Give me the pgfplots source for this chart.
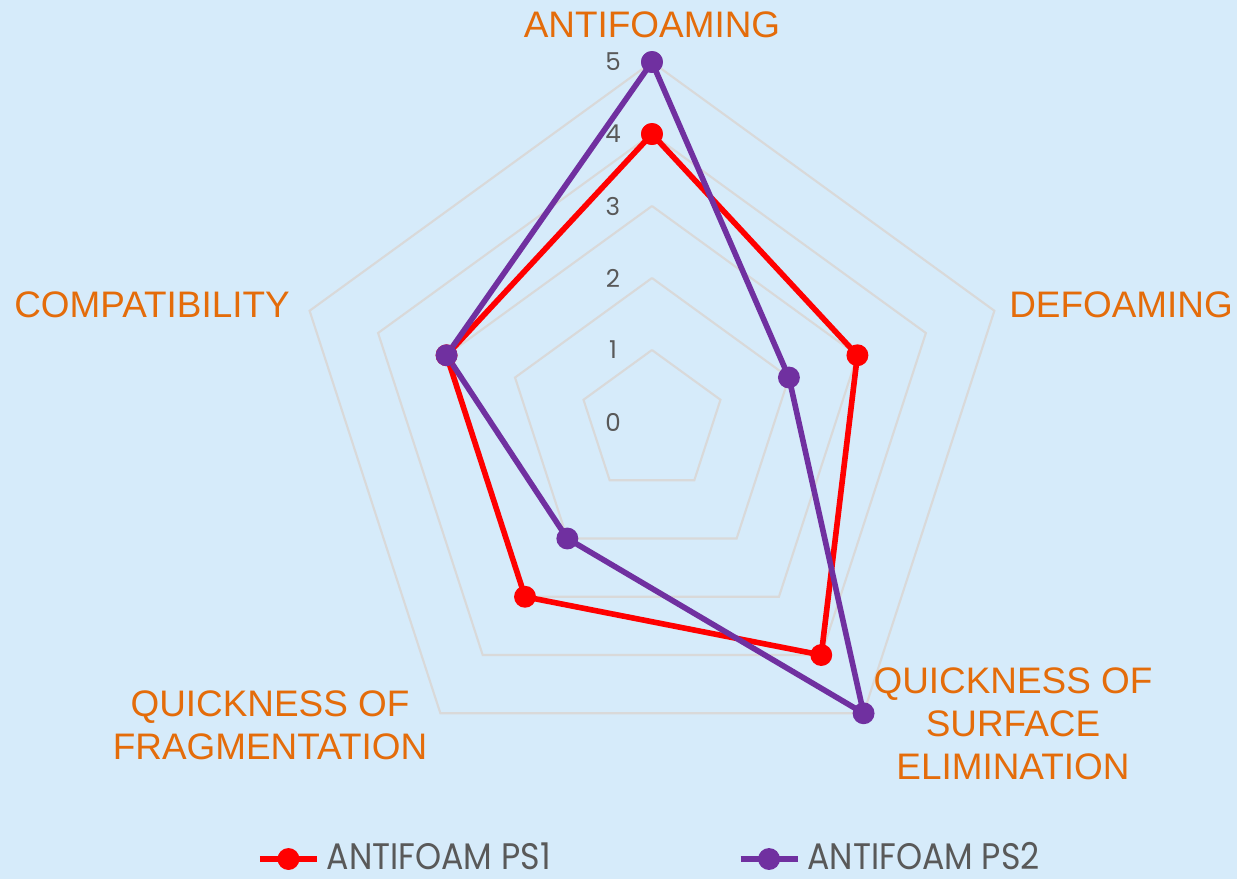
\documentclass[border=0pt]{standalone}
\usepackage{fontspec}
\setmainfont{Liberation Sans}
\newfontfamily\gothic{Poppins}
\newfontfamily\gothicn[FakeStretch=0.9]{Poppins}
\usepackage{pgfplots}
\pgfplotsset{compat=1.18}
\usepgfplotslibrary{polar}
\usetikzlibrary{backgrounds}
\definecolor{bg}{RGB}{214,235,250}
\definecolor{lbl}{RGB}{228,108,10}
\definecolor{ps1}{RGB}{255,0,0}
\definecolor{ps2}{RGB}{112,48,160}
\definecolor{gridc}{RGB}{217,217,217}
\definecolor{txt}{RGB}{89,89,89}
\begin{document}
\begin{tikzpicture}
\begin{polaraxis}[
  at={(0,0)}, anchor=center,
  scale only axis, width=7.2cm, height=7.2cm,
  ymin=0, ymax=5, hide axis, clip=false,
  legend columns=2,
  legend style={at={(0.5,0)}, anchor=center, yshift=-0.77cm, draw=none, fill=none,
    font=\gothicn\fontsize{10.5}{12}\selectfont, text=txt,
    /tikz/every even column/.append style={column sep=1.8cm},
    inner sep=0pt},
  legend cell align=left,
  legend image code/.code={
    \draw[mark repeat=2,mark phase=2] plot coordinates {(0cm,0cm) (0.285cm,0cm) (0.57cm,0cm)};},
]
% grid pentagons
\addplot[gridc, line width=0.6pt, forget plot] coordinates {(90,1) (18,1) (-54,1) (-126,1) (162,1) (90,1)};
\addplot[gridc, line width=0.6pt, forget plot] coordinates {(90,2) (18,2) (-54,2) (-126,2) (162,2) (90,2)};
\addplot[gridc, line width=0.6pt, forget plot] coordinates {(90,3) (18,3) (-54,3) (-126,3) (162,3) (90,3)};
\addplot[gridc, line width=0.6pt, forget plot] coordinates {(90,4) (18,4) (-54,4) (-126,4) (162,4) (90,4)};
\addplot[gridc, line width=0.6pt, forget plot] coordinates {(90,5) (18,5) (-54,5) (-126,5) (162,5) (90,5)};
% data
\addplot[ps1, line width=1.6pt, mark=*, mark size=2.3pt, mark options={solid, fill=ps1}] coordinates {(90,4) (18,3) (-54,4) (-126,3) (162,3) (90,4)};
\addlegendentry{ANTIFOAM PS1}
\addplot[ps2, line width=1.6pt, mark=*, mark size=2.3pt, mark options={solid, fill=ps2}] coordinates {(90,5) (18,2) (-54,5) (-126,2) (162,3) (90,5)};
\addlegendentry{ANTIFOAM PS2}
\coordinate (C) at (axis cs:0,0);
\end{polaraxis}
\begin{scope}[shift={(C)}]
  \foreach \k in {0,...,5} {
    \node[font=\gothic\fontsize{7}{8}\selectfont, text=txt] at (-0.39, 0.72*\k) {\k};
  }
  \begin{scope}[every node/.style={font=\fontsize{10.5}{12.2}\selectfont, text=lbl, align=center, inner sep=0pt}]
    \node at (0, 3.97) {ANTIFOAMING};
    \node at (4.69, 1.17) {DEFOAMING};
    \node at (-5.00, 1.17) {COMPATIBILITY};
    \node at (3.61, -3.02) {QUICKNESS OF\\SURFACE\\ELIMINATION};
    \node at (-3.82, -3.03) {QUICKNESS OF\\FRAGMENTATION};
  \end{scope}
  \begin{scope}[on background layer]
    \fill[bg] (-6.52,4.22) rectangle (5.85,-4.57);
  \end{scope}
  \pgfresetboundingbox
  \useasboundingbox (-6.52,4.22) rectangle (5.85,-4.57);
\end{scope}
\end{tikzpicture}
\end{document}
